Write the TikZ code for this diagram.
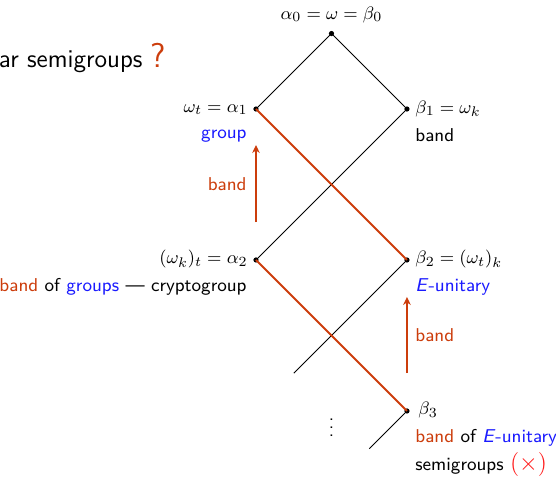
\documentclass[tikz,border=0pt]{standalone}
\usepackage{amsmath,amssymb}
\usepackage{xcolor}
\usepackage{tikz}
\usetikzlibrary{arrows.meta,positioning}
\renewcommand{\familydefault}{\sfdefault}
\definecolor{alertorange}{HTML}{CC3D0C}
\definecolor{strucblue}{HTML}{1A1AFF}
\definecolor{crossred}{HTML}{FF1A1A}
\tikzset{
  vtx/.style={circle, fill=black, inner sep=0pt, minimum size=2.6pt},
  thinedge/.style={line width=0.45pt, draw=black},
  hotedge/.style={line width=1pt, draw=alertorange},
  climb/.style={-{Stealth[length=4pt,width=3.8pt]}, line width=0.6pt,
                draw=alertorange},
  eqn/.style={inner sep=0pt},
  tag/.style={inner sep=0pt, font=\fontsize{9.3}{11.2}\selectfont},
}
\newcommand{\hot}[1]{\textcolor{alertorange}{#1}}
\newcommand{\cool}[1]{\textcolor{strucblue}{#1}}

\begin{document}
\begin{tikzpicture}[x=37.75pt, y=37.75pt, font=\fontsize{9.5}{11.4}\selectfont]
\useasboundingbox (-4.391,-5.874) rectangle (2.974,0.444);

% ---------------- title (cut at the left) ---------------------------------
\node[tag, anchor=base west, font=\fontsize{12.8}{15}\selectfont] (title)
  at (-4.41,-0.444) {ar semigroups \hot{\LARGE ?}};

% ---------------- vertices -------------------------------------------------
\node[vtx] (a0) at (0,0) {};
\node[vtx] (a1) at (-1,-1) {};
\node[vtx] (b1) at (1,-1) {};
\node[vtx] (a2) at (-1,-3) {};
\node[vtx] (b2) at (1,-3) {};
\node[vtx] (b3) at (1,-5) {};
\coordinate (b2end) at (-0.5,-4.5);
\coordinate (b3end) at (0.5,-5.5);

% ---------------- edges ----------------------------------------------------
\draw[thinedge] (a0.center) -- (a1.center);
\draw[thinedge] (a0.center) -- (b1.center);
\draw[thinedge] (b1.center) -- (a2.center);
\draw[thinedge] (b2.center) -- (b2end);
\draw[thinedge] (b3.center) -- (b3end);
\draw[hotedge] (a1.center) -- (b2.center);
\draw[hotedge] (a2.center) -- (b3.center);

% ---------------- labels ---------------------------------------------------
\node[eqn, anchor=base] (la0) at (0,0.192) {$\alpha_0=\omega=\beta_0$};

\node[eqn, anchor=base east] (la1) at (-1.106,-1.040) {$\omega_t=\alpha_1$};
\node[tag, anchor=base east] (ta1) at (-1.119,-1.397) {\cool{group}};
\node[eqn, anchor=base west] (lb1) at (1.106,-1.053) {$\beta_1=\omega_k$};
\node[tag, anchor=base west] (tb1) at (1.106,-1.424) {band};

\node[eqn, anchor=base east] (la2) at (-1.106,-3.053) {$(\omega_k)_t=\alpha_2$};
\node[tag, anchor=base east] (ta2) at (-1.119,-3.411)
  {\hot{band} of \cool{groups} --- cryptogroup};
\node[eqn, anchor=base west] (lb2) at (1.106,-3.053) {$\beta_2=(\omega_t)_k$};
\node[tag, anchor=base west] (tb2) at (1.106,-3.411)
  {\cool{\textit{E}-unitary}};

\node[eqn, anchor=base west] (lb3) at (1.146,-5.053) {$\beta_3$};
\node[tag, anchor=base west] (tb3) at (1.106,-5.424)
  {\hot{band} of \cool{\textit{E}-unitary}};
\node[tag, anchor=base west] (tb3b) at (1.106,-5.790)
  {semigroups \textcolor{crossred}{\fontsize{13}{15}\selectfont$(\times)$}};

\node[eqn] (dots) at (0,-5.146) {$\vdots$};

% ---------------- climbing arrows -----------------------------------------
\coordinate (up1s) at (-1,-2.497);
\coordinate (up1e) at (-1,-1.477);
\draw[climb] (up1s) -- (up1e);
\node[tag, anchor=base east] (up1l) at (-1.119,-2.073) {\hot{band}};

\coordinate (up2s) at (1,-4.497);
\coordinate (up2e) at (1,-3.490);
\draw[climb] (up2s) -- (up2e);
\node[tag, anchor=base west] (up2l) at (1.106,-4.086) {\hot{band}};
\end{tikzpicture}
\end{document}
